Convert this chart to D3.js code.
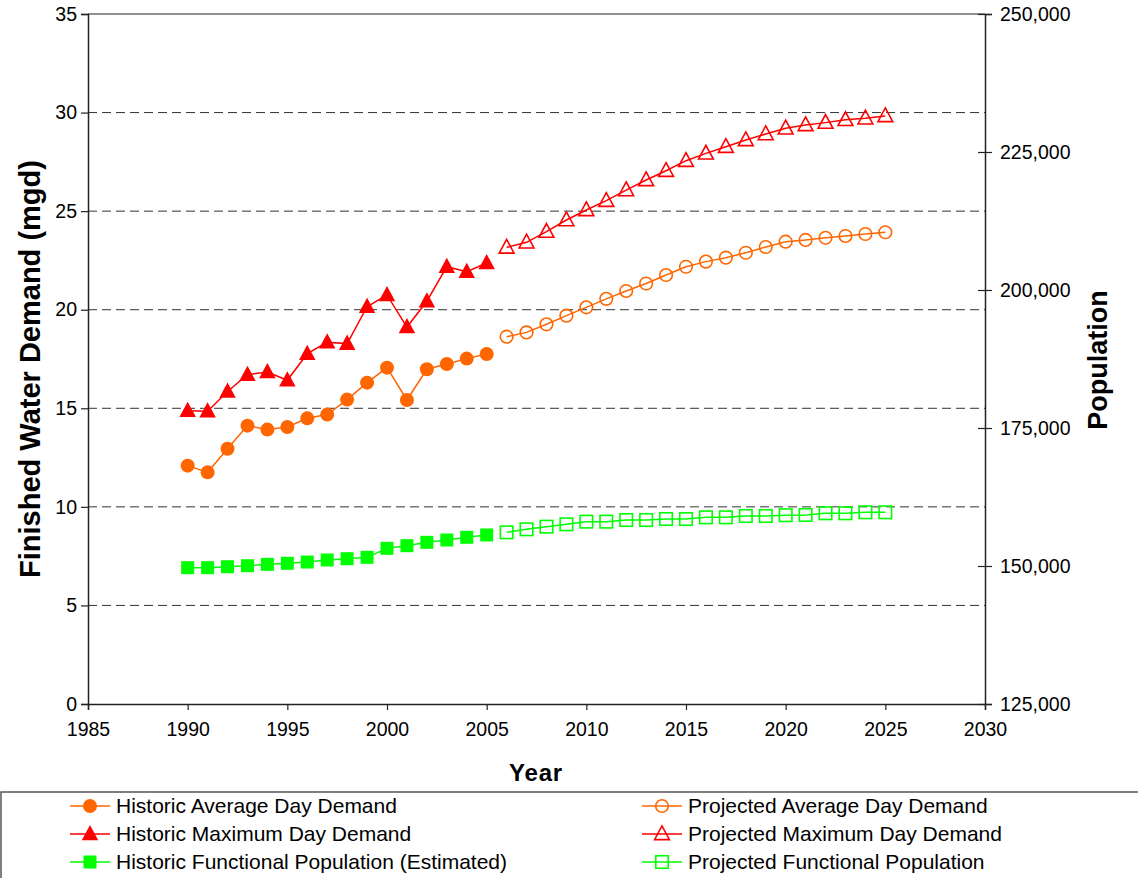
<!DOCTYPE html>
<html><head><meta charset="utf-8">
<script src="https://cdn.jsdelivr.net/npm/d3@7"></script>
<style>
html,body{margin:0;padding:0;background:#fff;}
svg{display:block;font-family:"Liberation Sans",Arial,sans-serif;}
</style></head>
<body>
<svg id="chart" width="1138" height="878"></svg>
<script>
const histYears = [1990,1991,1992,1993,1994,1995,1996,1997,1998,1999,2000,2001,2002,2003,2004,2005];
const projYears = [2006,2007,2008,2009,2010,2011,2012,2013,2014,2015,2016,2017,2018,2019,2020,2021,2022,2023,2024,2025];
const histAvg = [12.09,11.75,12.95,14.12,13.92,14.05,14.49,14.68,15.44,16.30,17.06,15.42,16.98,17.25,17.52,17.75];
const histMax = [14.88,14.85,15.85,16.70,16.84,16.42,17.77,18.35,18.28,20.15,20.75,19.12,20.43,22.18,21.93,22.37];
const histPop = [149700,149700,149870,150050,150300,150490,150720,151090,151320,151570,153200,153680,154290,154710,155200,155620];
const projAvg = [18.63,18.85,19.26,19.70,20.12,20.55,20.95,21.33,21.76,22.18,22.44,22.64,22.89,23.18,23.45,23.54,23.65,23.74,23.84,23.93];
const projMax = [23.16,23.42,23.96,24.55,25.06,25.53,26.07,26.58,27.05,27.56,27.93,28.27,28.61,28.91,29.20,29.37,29.49,29.63,29.71,29.83];
const projPop = [156100,156650,157120,157550,158030,158030,158330,158330,158510,158510,158820,158820,159060,159060,159200,159240,159550,159550,159730,159730];
const xTicks = [1985,1990,1995,2000,2005,2010,2015,2020,2025,2030];
const yLTicks = [0,5,10,15,20,25,30,35];
const yRTicks = [125000,150000,175000,200000,225000,250000];
const legendLabels = ["Historic Average Day Demand","Historic Maximum Day Demand","Historic Functional Population (Estimated)",
  "Projected Average Day Demand","Projected Maximum Day Demand","Projected Functional Population"];

const svg = d3.select("#chart");
const L=88,R=985,T=14,B=704;
const x = d3.scaleLinear().domain([1985,2030]).range([L,R]);
const yL = d3.scaleLinear().domain([0,35]).range([B,T]);
const yR = d3.scaleLinear().domain([125000,250000]).range([B,T]);

// gridlines
svg.append("g").selectAll("line").data(yLTicks.filter(v=>v>0&&v<35)).join("line")
  .attr("x1",L).attr("x2",R).attr("y1",d=>yL(d)).attr("y2",d=>yL(d))
  .attr("stroke","#333").attr("stroke-width",1).attr("stroke-dasharray","9,5");
svg.append("line").attr("x1",L).attr("x2",R).attr("y1",yL(35)).attr("y2",yL(35))
  .attr("stroke","#222").attr("stroke-width",1.2);

// axes
const fs = 19.5;
const gx = svg.append("g").attr("transform",`translate(0,${B})`)
  .call(d3.axisBottom(x).tickValues(xTicks).tickFormat(d3.format("d")).tickSize(6).tickPadding(12));
const gl = svg.append("g").attr("transform",`translate(${L},0)`)
  .call(d3.axisLeft(yL).tickValues(yLTicks).tickSize(7).tickPadding(4));
const gr = svg.append("g").attr("transform",`translate(${R},0)`)
  .call(d3.axisRight(yR).tickValues(yRTicks).tickFormat(d3.format(",")).tickSize(7).tickPadding(8));
gr.selectAll(".tick line").attr("x1",-7);
[gx,gl,gr].forEach(g=>{
  g.selectAll(".domain").attr("stroke","#222").attr("stroke-width",1.5);
  g.selectAll(".tick line").attr("stroke","#222").attr("stroke-width",1.2);
  g.selectAll("text").attr("font-size",fs).attr("fill","#000").attr("font-family","Liberation Sans, Arial, sans-serif");
});

// titles
svg.append("text").attr("x",536).attr("y",781).attr("text-anchor","middle")
  .attr("font-size",24).attr("font-weight","bold").attr("letter-spacing",0.8).text("Year");
svg.append("text").attr("transform","translate(40,369) rotate(-90)").attr("text-anchor","middle")
  .attr("font-size",29).attr("font-weight","bold").text("Finished Water Demand (mgd)");
svg.append("text").attr("transform","translate(1107,360) rotate(-90)").attr("text-anchor","middle")
  .attr("font-size",27).attr("font-weight","bold").text("Population");

const orange="#FF6600", red="#FF0000", green="#00FF00";
const tri = (s)=>`M0,${-s*0.6}L${s*0.55},${s*0.42}L${-s*0.55},${s*0.42}Z`;

function drawSeries(years, vals, yScale, color, shape, filled){
  const pts = years.map((yr,i)=>[x(yr), yScale(vals[i])]);
  svg.append("path").attr("d",d3.line()(pts)).attr("fill","none").attr("stroke",color).attr("stroke-width",1.5);
  const g = svg.append("g");
  pts.forEach(p=>drawMarker(g,p[0],p[1],color,shape,filled));
}
function drawMarker(g,cx,cy,color,shape,filled){
  const fill = filled?color:"none";
  const sw = filled?0:1.6;
  if(shape==="circle") g.append("circle").attr("cx",cx).attr("cy",cy).attr("r",filled?7:6.3)
     .attr("fill",fill).attr("stroke",color).attr("stroke-width",sw);
  else if(shape==="tri") g.append("path").attr("d",tri(filled?15:13.5)).attr("transform",`translate(${cx},${cy})`)
     .attr("fill",fill).attr("stroke",color).attr("stroke-width",sw);
  else { const s = filled?13:12.5; g.append("rect").attr("x",cx-s/2).attr("y",cy-s/2).attr("width",s).attr("height",s)
     .attr("fill",fill).attr("stroke",color).attr("stroke-width",sw); }
}
drawSeries(histYears, histPop, yR, green, "square", true);
drawSeries(projYears, projPop, yR, green, "square", false);
drawSeries(histYears, histAvg, yL, orange, "circle", true);
drawSeries(projYears, projAvg, yL, orange, "circle", false);
drawSeries(histYears, histMax, yL, red, "tri", true);
drawSeries(projYears, projMax, yL, red, "tri", false);

// legend
svg.append("rect").attr("x",1).attr("y",792).attr("width",1150).attr("height",100)
  .attr("fill","none").attr("stroke","#555").attr("stroke-width",1.5);
const legItems = [
  {c:orange,s:"circle",f:true},{c:red,s:"tri",f:true},{c:green,s:"square",f:true},
  {c:orange,s:"circle",f:false},{c:red,s:"tri",f:false},{c:green,s:"square",f:false}];
legItems.forEach((it,i)=>{
  const col = Math.floor(i/3), row = i%3;
  const lx = col===0?70:642, ly = 806+row*28;
  const g = svg.append("g");
  g.append("line").attr("x1",lx).attr("x2",lx+40).attr("y1",ly).attr("y2",ly).attr("stroke",it.c).attr("stroke-width",1.5);
  drawMarker(g,lx+20,ly,it.c,it.s,it.f);
  g.append("text").attr("x",lx+46).attr("y",ly+7).attr("font-size",21).attr("fill","#000").text(legendLabels[i]);
});
</script>
</body></html>
